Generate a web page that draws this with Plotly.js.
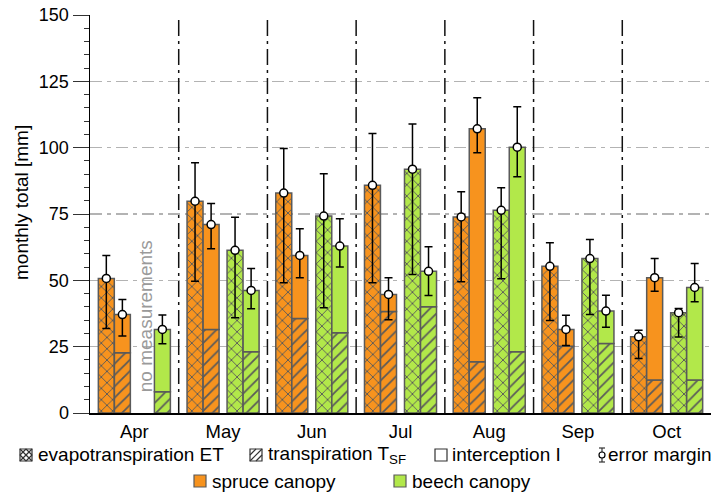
<!DOCTYPE html>
<html>
<head>
<meta charset="utf-8">
<script src="https://cdn.plot.ly/plotly-3.0.1.min.js"></script>
<style>html,body{margin:0;padding:0;background:#fff;}#chart{width:717px;height:493px;}</style>
</head>
<body>
<div id="chart"></div>
<script>
// ---- data (mm per month) ----
const months = ['Apr', 'May', 'Jun', 'Jul', 'Aug', 'Sep', 'Oct'];

const spruceET      = [50.7, 79.8, 82.9, 85.8, 73.9, 55.3, 28.7];
const spruceETHi    = [59.4, 94.3, 99.7, 105.3, 83.4, 64.2, 31.2];
const spruceETLo    = [31.8, 49.7, 49.1, 49.1, 49.5, 34.9, 20.5];
const spruceT       = [22.7, 31.5, 35.6, 38.3, 19.3, 25.2, 12.4];
const spruceI       = [14.4, 39.5, 23.8, 6.4, 87.8, 6.3, 38.6];
const spruceTIHi    = [42.8, 79.0, 69.4, 51.0, 118.8, 36.8, 58.2];
const spruceTILo    = [29.0, 61.9, 51.0, 35.1, 98.1, 25.4, 45.9];

const beechET       = [null, 61.3, 74.2, 91.9, 76.4, 58.2, 37.8];
const beechETHi     = [null, 73.8, 90.2, 108.9, 84.9, 65.4, 39.4];
const beechETLo     = [null, 35.9, 39.7, 52.2, 50.6, 37.1, 28.6];
const beechT        = [8.0, 23.1, 30.2, 40.0, 23.1, 26.2, 12.4];
const beechI        = [23.5, 23.1, 32.7, 13.4, 77.1, 12.2, 34.9];
const beechTIHi     = [36.9, 54.5, 73.2, 62.7, 115.4, 44.4, 56.3];
const beechTILo     = [26.1, 39.3, 55.0, 44.3, 89.0, 32.3, 41.9];

const yTicks = [0, 25, 50, 75, 100, 125, 150];
const legendRow1 = ['evapotranspiration ET', 'transpiration T<sub>SF</sub>', 'interception I', 'error margin'];
const legendRow2 = ['spruce canopy', 'beech canopy'];

// ---- styling ----
const ORANGE = '#F7931E';
const GREEN = '#B2E84A';
const OUT = '#5a5a5a';
const FONT = 'Liberation Sans, Arial, Helvetica, sans-serif';
const BW = 0.18;
const OFF = {sET: -0.316, sTI: -0.135, bET: 0.135, bTI: 0.316};
const xs = off => months.map((_, i) => i + off);
const sum = (a, b) => a.map((v, i) => (v == null || b[i] == null) ? null : v + b[i]);

function barTrace(x, y, color, shape, base) {
  const t = {
    type: 'bar', x: x, y: y, width: BW, hoverinfo: 'y',
    marker: {color: color, line: {color: OUT, width: 1.5}}
  };
  if (shape) t.marker.pattern = {shape: shape, fgcolor: OUT, bgcolor: color, fillmode: 'replace', size: 8, solidity: 0.22};
  if (base) t.base = base;
  return t;
}
function errTrace(x, y, hi, lo) {
  return {
    type: 'scatter', mode: 'markers', x: x, y: y, hoverinfo: 'y',
    marker: {symbol: 'circle', size: 8, color: '#fff', line: {color: '#000', width: 1.5}},
    error_y: {
      type: 'data', symmetric: false,
      array: hi.map((h, i) => h == null ? null : h - y[i]),
      arrayminus: lo.map((l, i) => l == null ? null : y[i] - l),
      color: '#000', thickness: 1.5, width: 4
    }
  };
}

const spruceTI = sum(spruceT, spruceI);
const beechTI = sum(beechT, beechI);

const data = [
  barTrace(xs(OFF.sET), spruceET, ORANGE, 'x'),
  barTrace(xs(OFF.sTI), spruceT, ORANGE, '/'),
  barTrace(xs(OFF.sTI), spruceI, ORANGE, null, spruceT),
  barTrace(xs(OFF.bET), beechET, GREEN, 'x'),
  barTrace(xs(OFF.bTI), beechT, GREEN, '/'),
  barTrace(xs(OFF.bTI), beechI, GREEN, null, beechT),
  errTrace(xs(OFF.sET), spruceET, spruceETHi, spruceETLo),
  errTrace(xs(OFF.sTI), spruceTI, spruceTIHi, spruceTILo),
  errTrace(xs(OFF.bET), beechET, beechETHi, beechETLo),
  errTrace(xs(OFF.bTI), beechTI, beechTIHi, beechTILo)
];

// ---- layout helpers (pixel -> paper) ----
const W = 717, H = 493, ML = 90, MR = 6, MT = 15, MB = 80;
const PW = W - ML - MR, PH = H - MT - MB;
const px = x => (x - ML) / PW;
const py = y => (H - MB - y) / PH;

const shapes = [];
// month separators
for (let i = 0; i < months.length - 1; i++) {
  shapes.push({type: 'line', xref: 'x', yref: 'paper', x0: i + 0.5, x1: i + 0.5, y0: 0, y1: 1,
    line: {color: '#111', width: 1.5, dash: '16px,5px,3px,5px'}, layer: 'above'});
}
// legend icons
function box(x, y, s, fill) {
  shapes.push({type: 'rect', xref: 'paper', yref: 'paper', x0: px(x), x1: px(x + s), y0: py(y + s), y1: py(y),
    line: {color: fill ? OUT : '#333', width: 1.2}, fillcolor: fill || '#fff'});
}
function seg(x0, y0, x1, y1, w) {
  shapes.push({type: 'line', xref: 'paper', yref: 'paper', x0: px(x0), x1: px(x1), y0: py(y0), y1: py(y1),
    line: {color: '#333', width: w || 1.2}});
}
const r1y = 449, s1 = 12;
// ET icon (crosshatch)
box(20, r1y, s1);
seg(20, r1y, 32, r1y + s1); seg(20, r1y + s1, 32, r1y);
seg(26, r1y, 32, r1y + 6); seg(32, r1y + 6, 26, r1y + 12); seg(26, r1y + 12, 20, r1y + 6); seg(20, r1y + 6, 26, r1y);
// T icon (hatch)
box(250, r1y, s1);
seg(250, r1y + s1, 262, r1y); seg(250, r1y + 6, 256, r1y); seg(256, r1y + s1, 262, r1y + 6);
// I icon
box(435, r1y, s1);
// error margin icon
seg(602, r1y - 1, 602, r1y + 13, 1.2);
seg(599, r1y - 1, 605, r1y - 1, 1.2);
seg(599, r1y + 13, 605, r1y + 13, 1.2);
shapes.push({type: 'circle', xref: 'paper', yref: 'paper', x0: px(599), x1: px(605), y0: py(r1y + 9), y1: py(r1y + 3),
  line: {color: '#000', width: 1.2}, fillcolor: '#fff'});
// canopy icons
const r2y = 475;
box(194, r2y, 12, ORANGE);
box(394, r2y, 12, GREEN);

const annText = (text, x, y, extra) => Object.assign({
  text: text, xref: 'paper', yref: 'paper', x: px(x), y: py(y), xanchor: 'left', yanchor: 'middle',
  showarrow: false, font: {family: FONT, size: 19, color: '#000'}, borderpad: 0
}, extra || {});

const annotations = [
  annText(legendRow1[0], 37, r1y + 6),
  annText(legendRow1[1], 267, r1y + 6),
  annText(legendRow1[2], 451, r1y + 6),
  annText(legendRow1[3], 607, r1y + 6),
  annText(legendRow2[0], 211, r2y + 6),
  annText(legendRow2[1], 411, r2y + 6),
  // y-axis title
  {text: 'monthly total [mm]', xref: 'paper', yref: 'paper', x: px(21), y: py(203), xanchor: 'center', yanchor: 'middle',
   textangle: -90, showarrow: false, font: {family: FONT, size: 19, color: '#000'}},
  // no measurements note
  {text: 'no measurements', xref: 'x', yref: 'y', x: OFF.bET, y: 36.6, xanchor: 'center', yanchor: 'middle',
   textangle: -90, showarrow: false, font: {family: FONT, size: 19, color: '#9a9a9a'}}
];

const layout = {
  width: W, height: H,
  margin: {l: ML, r: MR, t: MT, b: MB, pad: 0},
  paper_bgcolor: '#fff', plot_bgcolor: '#fff',
  font: {family: FONT, size: 19, color: '#000'},
  showlegend: false,
  barmode: 'overlay',
  xaxis: {
    range: [-0.5, months.length - 0.5],
    tickmode: 'array', tickvals: months.map((_, i) => i), ticktext: months,
    ticks: 'outside', ticklen: 1, tickcolor: 'rgba(0,0,0,0)',
    showline: true, linecolor: '#000', linewidth: 1.5,
    showgrid: false, zeroline: false, fixedrange: true,
    tickfont: {family: FONT, size: 18.5, color: '#000'}
  },
  xaxis2: {
    overlaying: 'x', anchor: 'y', side: 'bottom',
    range: [-0.5, months.length - 0.5],
    tickmode: 'array', tickvals: months.concat(['']).map((_, i) => i - 0.5),
    ticktext: months.concat(['']).map(() => ' '),
    ticks: 'outside', ticklen: 6, tickwidth: 1, tickcolor: '#000',
    showticklabels: false, showgrid: false, showline: false, zeroline: false, fixedrange: true
  },
  yaxis: {
    range: [0, 150], tickmode: 'array', tickvals: yTicks,
    ticks: 'outside', ticklen: 16, tickwidth: 1, tickcolor: '#333',
    minor: {tickmode: 'linear', tick0: 0, dtick: 5, ticks: 'outside', ticklen: 5, tickwidth: 1, tickcolor: '#333', showgrid: false},
    showline: true, linecolor: '#000', linewidth: 1.5,
    showgrid: true, gridcolor: '#b3b3b3', gridwidth: 1.5, griddash: '12px,5px,4px,5px',
    zeroline: false, fixedrange: true,
    tickfont: {family: FONT, size: 18, color: '#000'}
  },
  shapes: shapes,
  annotations: annotations
};

Plotly.newPlot('chart', data, layout, {displayModeBar: false, staticPlot: true});
</script>
</body>
</html>
